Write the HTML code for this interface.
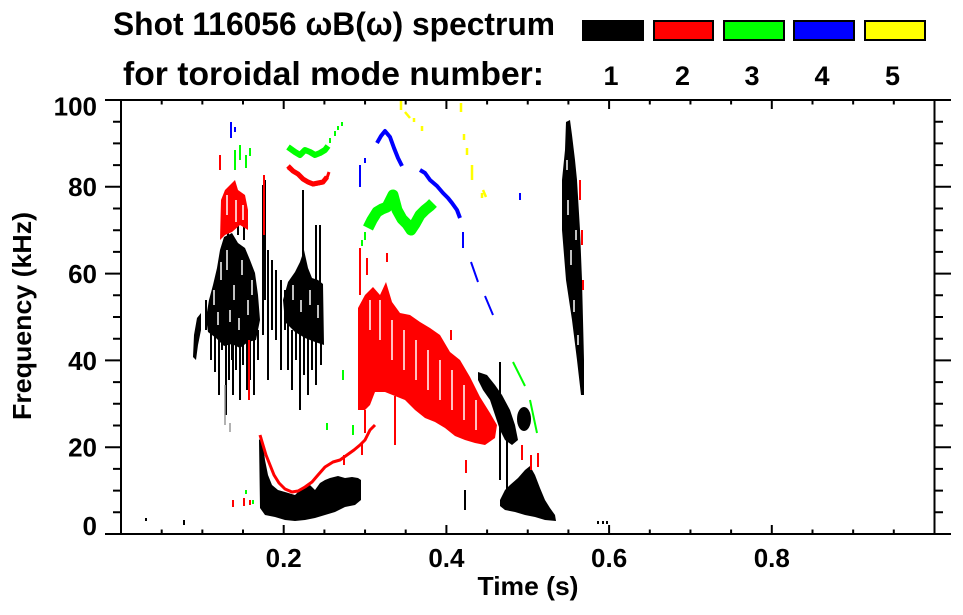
<!DOCTYPE html>
<html><head><meta charset="utf-8"><style>
html,body{margin:0;padding:0;background:#fff;}
svg{display:block;}
text{font-family:"Liberation Sans",Arial,sans-serif;font-weight:bold;fill:#000;}
</style></head><body>
<svg width="963" height="615" viewBox="0 0 963 615" xmlns="http://www.w3.org/2000/svg">
<rect width="963" height="615" fill="#fff"/>

<!-- ===== DATA ===== -->
<!-- black n=1 -->
<g fill="#000" stroke="none">
<polygon points="193,357 194,335 197,318 201,313 201,330 198,345 196,360"/>
<polygon points="206,318 209,300 213,285 217,268 220,250 224,237 232,233 238,243 245,248 250,260 255,273 258,295 260,320 256,340 248,342 240,348 232,344 224,346 216,338 208,332"/>
<polygon points="283,300 288,282 295,272 300,262 304,250 308,268 312,278 318,280 323,284 324,345 315,342 305,338 295,332 285,322"/>
<polygon points="259,440 262,437 265,460 268,475 272,485 278,490 285,492 295,495 300,490 305,488 310,485 315,490 320,483 325,480 330,478 338,476 345,478 352,477 358,478 361,480 361,500 355,505 345,507 335,512 325,515 315,518 305,520 295,521 285,520 275,517 265,515 260,508"/>
<polygon points="478,372 487,375 495,385 502,395 510,410 515,425 518,440 512,445 505,440 500,430 495,415 490,400 483,390 478,380"/>
<ellipse cx="524" cy="419" rx="7" ry="12"/>
<polygon points="500,500 505,490 510,485 518,478 525,470 530,466 535,475 540,488 545,500 550,508 555,515 556,521 545,520 535,517 525,515 515,512 505,510 500,506"/>
<polygon points="566,122 570,120 572,135 575,160 577,180 580,230 582,280 583,320 584,360 584,395 581,395 577,360 572,320 566,280 562,230 562,180 565,150"/>
</g>
<path fill="none" stroke="#000" stroke-width="2" d="M206 300V330 M211 320V360 M215 318V372 M219 330V395 M222 320V350 M226 330V415 M229 340V380 M233 330V395 M236 345V370 M240 335V400 M243 340V365 M247 330V390 M250 340V380 M254 330V395 M258 330V360 M263 185V335 M265 180V300 M268 250V380 M272 260V330 M276 270V340 M281 280V370 M285 290V330 M288 320V370 M292 330V390 M296 320V360 M300 330V410 M304 335V375 M308 330V395 M312 335V370 M316 225V290 M316 335V385 M320 225V290 M321 340V365 M303 190V270 M228 200V240 M238 205V235 M244 195V240 M232 330V360 M500 362V480 M507 430V492 M465 490V510 M146 518V521 M184 520V525 M598 521V524 M603 521V524 M607 521V524"/>
<path fill="none" stroke="#999" stroke-width="1.5" d="M225 385V425 M230 423V432"/>
<!-- mottling in black -->
<path fill="none" stroke="#fff" stroke-width="1.5" d="M214 290V305 M221 262V280 M227 250V270 M234 285V300 M242 260V275 M248 300V315 M252 280V295 M230 310V322 M218 312V325 M239 318V330 M293 285V300 M301 300V312 M310 290V305 M318 305V318 M568 200V215 M571 250V265 M574 300V312 M578 335V345 M567 160V170 M576 230V240"/>

<!-- red n=2 -->
<g fill="#f00" stroke="none">
<polygon points="358,308 365,295 373,287 380,295 386,282 392,302 400,313 410,315 420,322 430,328 440,335 450,352 460,360 470,377 480,397 490,413 497,425 495,438 485,445 475,443 465,440 455,436 445,428 435,422 425,418 415,410 405,400 395,396 385,392 375,392 370,405 365,410 358,410"/>
<polygon points="220,240 221,200 225,190 230,185 235,180 238,190 245,195 248,210 248,230 240,225 232,232 225,235"/>
</g>
<path fill="none" stroke="#fff" stroke-width="1.5" d="M370 300V330 M380 300V340 M392 320V360 M404 330V370 M416 340V380 M428 350V390 M440 360V400 M452 370V410 M464 385V420 M476 400V430 M227 195V215 M236 200V222 M243 205V220"/>
<path fill="none" stroke="#f00" stroke-width="3" stroke-linejoin="round" d="M288 168L293 172 298 175 303 180 308 183 313 185 318 184 323 183 327 178 329 172 M260 435L263 445 266 455 270 465 274 475 279 483 285 489 292 492 298 491 305 487 312 482 318 475 325 467 333 462 340 460 347 455 354 450 360 445 365 440 370 430 375 425"/>
<path fill="none" stroke="#f00" stroke-width="5" d="M288 166L293 171 298 174 303 179 308 182 313 184 318 183 323 182 327 177"/>
<path fill="none" stroke="#f00" stroke-width="2" d="M220 155V170 M264 175V235 M367 258V275 M387 253V262 M360 248V295 M344 455V465 M362 443V455 M466 460V473 M538 453V467 M522 445V460 M531 455V470 M249 340V400 M233 500V507 M244 498V506 M250 500V505 M432 340V350 M451 330V340 M365 410V433 M395 396V445 M580 180V200 M582 230V245 M583 280V290"/>

<!-- green n=3 -->
<path fill="none" stroke="#0f0" stroke-width="11" stroke-linejoin="round" d="M368 228L372 220 377 212 382 209 387 207 393 195 397 210 402 219 407 224 411 230 415 224 420 215 425 210 430 206 433 203"/>
<path fill="none" stroke="#0f0" stroke-width="6" stroke-linejoin="round" d="M288 147L295 152 300 155 305 150 310 152 315 155 320 153 325 150 328 146"/>
<path fill="none" stroke="#0f0" stroke-width="2" d="M362 240V246 M365 232V240 M330 138V143 M335 131V136 M338 126V130 M342 122V126 M235 150V170 M240 145V160 M246 155V168 M250 148V156 M513 362L525 386 M530 400L537 433 M343 370V380 M246 490V494 M253 500V504 M327 423V430 M353 425V435"/>

<!-- blue n=4 -->
<path fill="none" stroke="#00f" stroke-width="4" stroke-linejoin="round" d="M377 143L381 136 385 131 390 137 394 148 398 158 402 166 M420 170L425 173 430 180 437 186 443 193 448 198 452 203 457 210 460 218"/>
<path fill="none" stroke="#00f" stroke-width="2" d="M463 232V248 M471 262L478 282 M485 296L493 315 M231 122V138 M235 127V132 M360 165V187 M365 158V163 M520 193V200"/>

<!-- yellow n=5 -->
<path fill="none" stroke="#ff0" stroke-width="2.5" d="M401 100V110 M405 112L410 118 M414 118V122 M422 126V131 M461 103V112 M464 134V140 M467 148V155 M472 165V180 M483 190L486 197 M482 193V198"/>

<!-- ===== AXES ===== -->
<g stroke="#000" stroke-width="2" fill="none">
<path d="M105 100H951 M105 534H951 M121 100V534 M934.5 100V534"/>
<path d="M105 534H121 M105 447.2H121 M105 360.4H121 M105 273.6H121 M105 186.8H121 M105 100H121
M113 512.3H121 M113 490.6H121 M113 468.9H121 M113 425.5H121 M113 403.8H121 M113 382.1H121 M113 338.7H121 M113 317H121 M113 295.3H121 M113 251.9H121 M113 230.2H121 M113 208.5H121 M113 165.1H121 M113 143.4H121 M113 121.7H121"/>
<path d="M934.5 534H951 M934.5 447.2H951 M934.5 360.4H951 M934.5 273.6H951 M934.5 186.8H951 M934.5 100H951
M934.5 512.3H943 M934.5 490.6H943 M934.5 468.9H943 M934.5 425.5H943 M934.5 403.8H943 M934.5 382.1H943 M934.5 338.7H943 M934.5 317H943 M934.5 295.3H943 M934.5 251.9H943 M934.5 230.2H943 M934.5 208.5H943 M934.5 165.1H943 M934.5 143.4H943 M934.5 121.7H943"/>
<path d="M283.7 534V525 M446.4 534V525 M609.1 534V525 M771.8 534V525
M161.7 534V529.5 M202.35 534V529.5 M243 534V529.5 M324.4 534V529.5 M365.05 534V529.5 M405.7 534V529.5 M487.1 534V529.5 M527.75 534V529.5 M568.4 534V529.5 M649.8 534V529.5 M690.45 534V529.5 M731.1 534V529.5 M812.5 534V529.5 M853.15 534V529.5 M893.8 534V529.5"/>
<path d="M283.7 100V109 M446.4 100V109 M609.1 100V109 M771.8 100V109
M161.7 100V104.5 M202.35 100V104.5 M243 100V104.5 M324.4 100V104.5 M365.05 100V104.5 M405.7 100V104.5 M487.1 100V104.5 M527.75 100V104.5 M568.4 100V104.5 M649.8 100V104.5 M690.45 100V104.5 M731.1 100V104.5 M812.5 100V104.5 M853.15 100V104.5 M893.8 100V104.5"/>
</g>

<g font-size="26" text-anchor="end">
<text x="97" y="115.5">100</text>
<text x="97" y="196">80</text>
<text x="97" y="283">60</text>
<text x="97" y="370">40</text>
<text x="97" y="456.5">20</text>
<text x="97" y="535">0</text>
</g>
<g font-size="26" text-anchor="middle">
<text x="283.7" y="567">0.2</text>
<text x="446.4" y="567">0.4</text>
<text x="609.1" y="567">0.6</text>
<text x="771.8" y="567">0.8</text>
<text x="528" y="595" textLength="101" lengthAdjust="spacingAndGlyphs">Time (s)</text>
</g>
<text font-size="26" text-anchor="middle" transform="translate(31,316) rotate(-90)" textLength="208" lengthAdjust="spacingAndGlyphs">Frequency (kHz)</text>

<text x="113" y="35" font-size="32.5" textLength="442" lengthAdjust="spacingAndGlyphs">Shot 116056 ωB(ω) spectrum</text>
<text x="123" y="85" font-size="33" textLength="421" lengthAdjust="spacingAndGlyphs">for toroidal mode number:</text>

<rect x="582" y="20" width="62" height="21" fill="#000"/>
<rect x="654" y="21" width="59" height="19" fill="#f00" stroke="#000" stroke-width="2"/>
<rect x="724" y="21" width="60" height="19" fill="#0f0" stroke="#000" stroke-width="2"/>
<rect x="794" y="21" width="60" height="19" fill="#00f" stroke="#000" stroke-width="2"/>
<rect x="865" y="21" width="60" height="19" fill="#ff0" stroke="#000" stroke-width="2"/>
<g font-size="27" text-anchor="middle">
<text x="611" y="85">1</text>
<text x="682.5" y="85">2</text>
<text x="752" y="85">3</text>
<text x="822" y="85">4</text>
<text x="892.5" y="85">5</text>
</g>
</svg>
</body></html>
